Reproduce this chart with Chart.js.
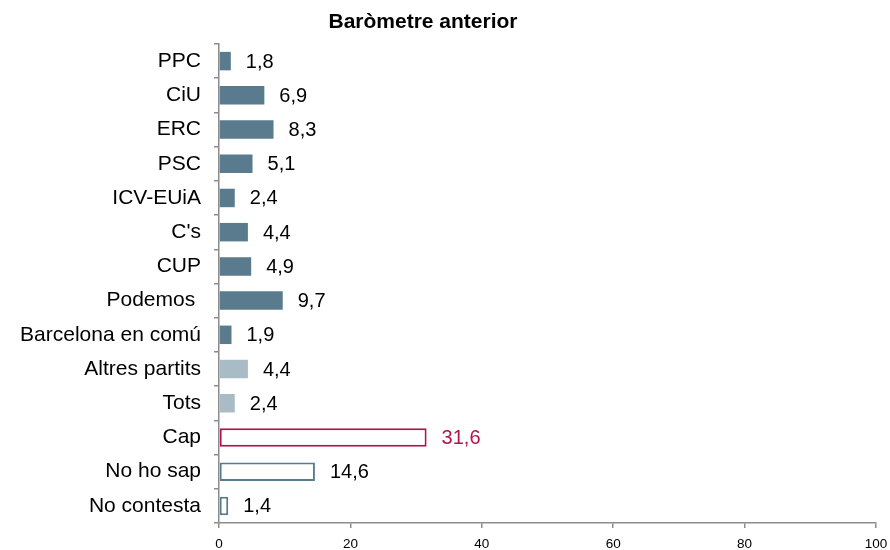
<!DOCTYPE html>
<html>
<head>
<meta charset="utf-8">
<script src="https://cdn.jsdelivr.net/npm/chart.js@4"></script>
<style>
  html, body { margin:0; padding:0; background:#fff; }
  #wrap { width:890px; height:550px; position:relative; }
</style>
</head>
<body>
<div id="wrap"><canvas id="chartCanvas" width="890" height="550"></canvas></div>
<script>
// data
const TITLE = 'Baròmetre anterior';
const categories = ['PPC','CiU','ERC','PSC','ICV-EUiA',"C's",'CUP','Podemos ','Barcelona en comú','Altres partits','Tots','Cap','No ho sap','No contesta'];
const values = [1.8, 6.9, 8.3, 5.1, 2.4, 4.4, 4.9, 9.7, 1.9, 4.4, 2.4, 31.6, 14.6, 1.4];
const xTicks = [0, 20, 40, 60, 80, 100];

// bar styles per category group
const SLATE = '#5a7b8e', LIGHT = '#a9bbc5', CRIMSON = '#b4144b';
const fills   = categories.map((c,i)=> i<9 ? SLATE : i<11 ? LIGHT : '#ffffff');
const borders = categories.map((c,i)=> i<11 ? 'rgba(0,0,0,0)' : i===11 ? CRIMSON : SLATE);
const borderW = categories.map((c,i)=> i<11 ? 0 : 2);
const labelColors = categories.map((c,i)=> i===11 ? CRIMSON : '#000');

const FONT = 'Arial, "Liberation Sans", Helvetica, sans-serif';

// draws value labels at the end of each bar, plus the title
const valueLabels = {
  id:'valueLabels',
  afterDatasetsDraw(chart){
    const {ctx} = chart;
    const meta = chart.getDatasetMeta(0);
    ctx.save();
    ctx.font = '20px ' + FONT;
    ctx.textBaseline = 'middle';
    ctx.textAlign = 'left';
    meta.data.forEach((bar,i)=>{
      ctx.fillStyle = labelColors[i];
      ctx.fillText(values[i].toFixed(1).replace('.', ','), bar.x + 15, bar.y + 1);
    });
    ctx.font = 'bold 21px ' + FONT;
    ctx.fillStyle = '#000';
    ctx.textAlign = 'center';
    ctx.fillText(TITLE, 423, 22);
    ctx.restore();
  }
};

const ctx = document.getElementById('chartCanvas').getContext('2d');
new Chart(ctx, {
  type:'bar',
  data:{
    labels: categories,
    datasets:[{
      data: values,
      backgroundColor: fills,
      borderColor: borders,
      borderWidth: borderW,
      borderSkipped: false,
      barPercentage: 0.54,
      categoryPercentage: 1
    }]
  },
  options:{
    indexAxis:'y',
    responsive:false,
    animation:false,
    layout:{padding:{top:44, right:14, left:0, bottom:0}},
    plugins:{legend:{display:false}, title:{display:false}, tooltip:{enabled:false}},
    scales:{
      x:{
        min:0, max:100,
        afterBuildTicks(axis){ axis.ticks = xTicks.map(v=>({value:v})); },
        afterFit(axis){ axis.height = 27; axis.paddingLeft = 0; axis.paddingRight = 0; },
        grid:{drawOnChartArea:false, drawTicks:true, tickLength:5, color:'#8c8c8c', lineWidth:1.5},
        border:{color:'#8c8c8c', width:1.5},
        ticks:{color:'#000', font:{family:FONT, size:13.5}, padding:8, maxRotation:0}
      },
      y:{
        afterFit(axis){ axis.width = 219; },
        grid:{drawOnChartArea:false, drawTicks:true, tickLength:5, offset:true, color:'#8c8c8c', lineWidth:1.5},
        border:{color:'#8c8c8c', width:1.5},
        ticks:{color:'#000', font:{family:FONT, size:21}, padding:13, autoSkip:false}
      }
    }
  },
  plugins:[valueLabels]
});
</script>
</body>
</html>
